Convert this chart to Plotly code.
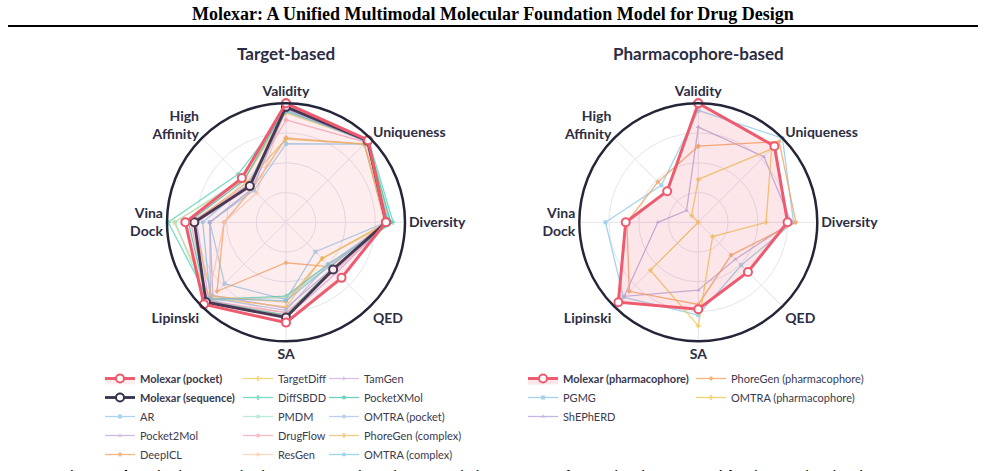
import plotly.graph_objects as go

categories = ["Validity", "Uniqueness", "Diversity", "QED", "SA", "Lipinski",
              "Vina<br>Dock", "High<br>Affinity"]

# ---- Target-based (left) ----
molexar_pocket = [1.00, 0.976, 0.84, 0.66, 0.843, 0.975, 0.846, 0.525]
molexar_sequence = [0.97, 0.97, 0.84, 0.56, 0.80, 0.95, 0.77, 0.43]

target_names = ["AR", "Pocket2Mol", "DeepICL", "TargetDiff", "DiffSBDD", "PMDM",
                "DrugFlow", "ResGen", "TamGen", "PocketXMol", "OMTRA (pocket)",
                "PhoreGen (complex)", "OMTRA (complex)"]
target_values = [
    [0.66, 0.93, 0.84, 0.35, 0.65, 0.73, 0.64, 0.38],
    [0.95, 0.96, 0.84, 0.55, 0.72, 0.87, 0.64, 0.40],
    [0.71, 0.93, 0.83, 0.53, 0.34, 0.82, 0.52, 0.40],
    [0.92, 0.97, 0.87, 0.43, 0.71, 0.90, 0.94, 0.50],
    [0.93, 0.98, 0.90, 0.50, 0.62, 0.92, 0.99, 0.57],
    [0.96, 0.97, 0.88, 0.52, 0.63, 0.94, 0.93, 0.52],
    [0.86, 0.95, 0.86, 0.58, 0.76, 0.93, 0.80, 0.45],
    [0.97, 0.96, 0.85, 0.55, 0.78, 0.93, 0.52, 0.35],
    [0.96, 0.96, 0.85, 0.60, 0.80, 0.92, 0.75, 0.42],
    [0.97, 0.97, 0.88, 0.55, 0.78, 0.94, 0.82, 0.50],
    [0.95, 0.96, 0.86, 0.50, 0.74, 0.90, 0.64, 0.40],
    [0.70, 0.93, 0.85, 0.43, 0.67, 0.88, 0.78, 0.47],
    [0.94, 0.96, 0.86, 0.52, 0.66, 0.90, 0.70, 0.45],
]
target_colors = ["#8fc9e8", "#b9a6dc", "#f4a25e", "#f0c855", "#4fcfb2", "#a3e4cf",
                 "#f5a3b5", "#f9cbb0", "#cfa8e3", "#35c4a8", "#a7bfe2", "#e6bd5e", "#7fc6e8"]
target_symbols = ["square", "triangle-up", "diamond", "cross", "cross", "circle",
                  "diamond", "circle", "triangle-right", "circle", "circle", "cross", "circle"]
target_legend = ["legend", "legend", "legend", "legend2", "legend2", "legend2", "legend2",
                 "legend2", "legend3", "legend3", "legend3", "legend3", "legend3"]

# ---- Pharmacophore-based (right) ----
molexar_pharm = [1.00, 0.905, 0.75, 0.59, 0.73, 0.95, 0.61, 0.37]
pharm_names = ["PGMG", "ShEPhERD", "PhoreGen (pharmacophore)", "OMTRA (pharmacophore)"]
pharm_values = [
    [0.94, 1.00, 0.80, 0.51, 0.78, 0.89, 0.78, 0.44],
    [0.80, 0.78, 0.78, 0.44, 0.57, 0.88, 0.34, 0.14],
    [0.64, 0.96, 0.82, 0.39, 0.69, 0.82, 0.60, 0.48],
    [0.36, 0.87, 0.57, 0.17, 0.87, 0.57, 0.00, 0.08],
]
pharm_colors = ["#8fc9e8", "#b9a6dc", "#f4a25e", "#f0c855"]
pharm_symbols = ["square", "triangle-up", "diamond", "cross"]
pharm_legend = ["legend4", "legend4", "legend5", "legend5"]

RED = "#ee5a6e"
NAVY = "#33334f"
TEXT = "#2d2d44"
GRID = "#e4e4ee"

W, H = 985, 471


def closed(v):
    return list(v) + [v[0]]


thetas = closed(categories)

fig = go.Figure()

rank = 1
for name, vals, col, sym, lg in zip(target_names, target_values, target_colors,
                                     target_symbols, target_legend):
    fig.add_trace(go.Scatterpolar(
        r=closed(vals), theta=thetas, mode="lines+markers", name=name,
        line=dict(color=col, width=1.3), opacity=0.75,
        marker=dict(symbol=sym, size=4, color=col),
        subplot="polar", legend=lg, legendrank=10 + rank))
    rank += 1

fig.add_trace(go.Scatterpolar(
    r=closed(molexar_sequence), theta=thetas, mode="lines+markers",
    name="<b>Molexar (sequence)</b>",
    line=dict(color=NAVY, width=2.8),
    marker=dict(symbol="circle", size=8, color="white", line=dict(color=NAVY, width=2)),
    subplot="polar", legend="legend", legendrank=2))
fig.add_trace(go.Scatterpolar(
    r=closed(molexar_pocket), theta=thetas, mode="lines+markers",
    name="<b>Molexar (pocket)</b>", fill="toself", fillcolor="rgba(238,90,110,0.11)",
    line=dict(color=RED, width=3),
    marker=dict(symbol="circle", size=8, color="white", line=dict(color=RED, width=2)),
    subplot="polar", legend="legend", legendrank=1))

for i, (name, vals, col, sym, lg) in enumerate(zip(pharm_names, pharm_values, pharm_colors,
                                                   pharm_symbols, pharm_legend)):
    fig.add_trace(go.Scatterpolar(
        r=closed(vals), theta=thetas, mode="lines+markers", name=name,
        line=dict(color=col, width=1.3), opacity=0.8,
        marker=dict(symbol=sym, size=4, color=col),
        subplot="polar2", legend=lg, legendrank=10 + i))
fig.add_trace(go.Scatterpolar(
    r=closed(molexar_pharm), theta=thetas, mode="lines+markers",
    name="<b>Molexar (pharmacophore)</b>", fill="toself", fillcolor="rgba(238,90,110,0.15)",
    line=dict(color=RED, width=3),
    marker=dict(symbol="circle", size=8, color="white", line=dict(color=RED, width=2)),
    subplot="polar2", legend="legend4", legendrank=1))


def polar_layout(cx, cy, r):
    return dict(
        domain=dict(x=[(cx - r) / W, (cx + r) / W], y=[(H - cy - r) / H, (H - cy + r) / H]),
        bgcolor="white",
        radialaxis=dict(range=[0, 1], tickvals=[0.25, 0.5, 0.75, 1.0], showticklabels=False,
                        ticks="", showline=False, gridcolor=GRID, gridwidth=1),
        angularaxis=dict(direction="clockwise", rotation=90, gridcolor=GRID, gridwidth=1,
                         showline=True, linecolor="#25253a", linewidth=2.5, ticks="",
                         tickfont=dict(family="Lato", size=14, color=TEXT, weight="bold")),
    )


fig.update_layout(
    width=W, height=H, margin=dict(l=0, r=0, t=0, b=0),
    paper_bgcolor="white", plot_bgcolor="white",
    font=dict(family="Lato", color=TEXT),
    polar=polar_layout(286, 222.3, 119),
    polar2=polar_layout(698.3, 222.3, 119),
)

legend_font = dict(family="Lato", size=11, color="#3a3a50")
legend_pos = {"legend": 100, "legend2": 238, "legend3": 324, "legend4": 523, "legend5": 691}
for key, xpx in legend_pos.items():
    fig.update_layout({key: dict(x=xpx / W, y=1 - 364 / H, xanchor="left", yanchor="top",
                                 orientation="v", font=legend_font, bgcolor="rgba(0,0,0,0)",
                                 tracegroupgap=0, itemwidth=30)})

annotations = [
    dict(text="<b>Molexar: A Unified Multimodal Molecular Foundation Model for Drug Design</b>",
         x=0.5, y=1 - 14 / H, xref="paper", yref="paper", showarrow=False,
         font=dict(family="Liberation Serif", size=18, color="black"),
         xanchor="center", yanchor="middle"),
    dict(text="<b>Target-based</b>", x=286 / W, y=1 - 54 / H, xref="paper", yref="paper",
         showarrow=False, font=dict(family="Lato", size=17, color=TEXT),
         xanchor="center", yanchor="middle"),
    dict(text="<b>Pharmacophore-based</b>", x=698.3 / W, y=1 - 54 / H, xref="paper",
         yref="paper", showarrow=False, font=dict(family="Lato", size=17, color=TEXT),
         xanchor="center", yanchor="middle"),
    dict(text="<b>Figure 4: The</b> multi-objective molecular generation results on the CrossDocked2020 "
              "test set. <b>Left:</b> target-based generation. <b>Right:</b> pharmacophore-based generation.",
         x=0.5, y=1 - 465 / H, xref="paper", yref="paper", showarrow=False,
         font=dict(family="Liberation Serif", size=13, color="black"),
         xanchor="center", yanchor="top"),
]
fig.update_layout(annotations=annotations)
fig.add_shape(type="line", xref="paper", yref="paper", x0=8 / W, x1=978 / W,
              y0=1 - 26 / H, y1=1 - 26 / H, line=dict(color="black", width=2.2))

fig.write_html("out.html")
